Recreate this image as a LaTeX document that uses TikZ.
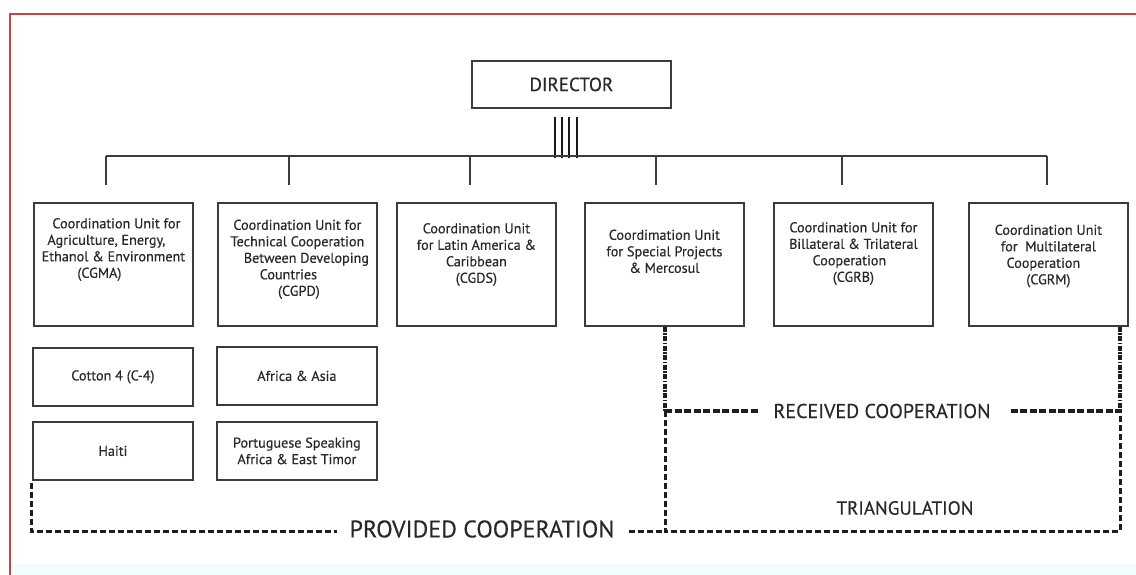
\documentclass[tikz,border=0pt]{standalone}
\usepackage{fontspec}
\setmainfont{PT Sans}[FakeBold=0.35]
\definecolor{framered}{RGB}{200,66,66}
\definecolor{inkline}{RGB}{60,60,60}
\definecolor{inktext}{RGB}{40,40,40}
\definecolor{dashink}{RGB}{30,30,30}
\definecolor{paleband}{RGB}{242,252,252}
\begin{document}
\begin{tikzpicture}[x=1pt,y=-1pt,
  unitbox/.style={draw=inkline, line width=1.8pt, minimum width=159pt,
    minimum height=123pt, inner sep=0pt, anchor=north west},
  subbox/.style={draw=inkline, line width=1.8pt, minimum width=160pt,
    minimum height=58pt, inner sep=0pt, anchor=north west, align=center,
    text=inktext, font=\fontsize{14.2}{16.5}\selectfont},
  unittext/.style={anchor=north, align=center, inner sep=0pt, text=inktext,
    font=\fontsize{14.2}{16.5}\selectfont},
  bigtext/.style={text=inktext, inner sep=0pt},
  busline/.style={draw=inkline, line width=1.8pt},
  bar/.style={draw=black!90, line width=2.6pt},
  provdash/.style={draw=dashink, line width=3pt, dash pattern=on 6pt off 3pt},
  recdash/.style={draw=dashink, line width=3.2pt, dash pattern=on 7pt off 2.5pt},
  recdots/.style={draw=dashink, line width=3.2pt,
    dash pattern=on 5pt off 1.5pt on 1.5pt off 1.5pt},
]
\useasboundingbox (0,0) rectangle (1136,575);
\fill[white] (0,0) rectangle (1136,575);
\fill[paleband] (11,564) rectangle (1136,575);

% outer frame (top and left edges)
\draw[framered, line width=2.6pt] (10,575) -- (10,14) -- (1136,14);

% director and the bus below it
\node[draw=inkline, line width=1.8pt, minimum width=199pt, minimum height=47pt,
  inner sep=0pt, anchor=north west, text=inktext,
  font=\fontsize{19}{22}\selectfont] (dir) at (471,60) {DIRECTOR};
\foreach \dx in {-16.5,-9.5,-2.5,5.5}
  \draw[bar] ([shift={(\dx,8)}]dir.south) -- ++(0,41);
\coordinate (busL) at (106,156);
\coordinate (busR) at (1047,156);
\draw[busline] (busL) -- (busR);
\foreach \x in {106,289,470,656,842,1047}
  \draw[busline] (\x,156) -- (\x,185);

% coordination units
\node[unitbox] (c1) at (33,202) {};
\node[unitbox] (c2) at (217,202) {};
\node[unitbox] (c3) at (396,202) {};
\node[unitbox] (c4) at (584,202) {};
\node[unitbox] (c5) at (773,202) {};
\node[unitbox] (c6) at (968,202) {};

\node[unittext, yshift=-16pt] (c1t) at (c1.north)
  {\hspace*{6pt}Coordination Unit for\\\hspace*{-14pt}Agriculture, Energy,\\
   Ethanol \& Environment\\\hspace*{-28pt}(CGMA)};
\node[unittext, yshift=-17.5pt] (c2t) at (c2.north)
  {Coordination Unit for\\Technical Cooperation\\\hspace*{18pt}Between Developing\\
   \hspace*{-18pt}Countries\\\hspace*{3pt}(CGPD)};
\node[unittext, yshift=-21pt] (c3t) at (c3.north)
  {Coordination Unit\\for Latin America \&\\Caribbean\\(CGDS)};
\node[unittext, yshift=-27.5pt] (c4t) at (c4.north)
  {Coordimation Unit\\for Special Projects\\\& Mercosul};
\node[unittext, yshift=-20pt] (c5t) at (c5.north)
  {Coordination Unit for\\Billateral \& Trilateral\\\hspace*{-8pt}Cooperation\\(CGRB)};
\node[unittext, yshift=-22.5pt] (c6t) at (c6.north)
  {Coordination Unit\\for\ \ Multilateral\\\hspace*{-10pt}Cooperation\\(CGRM)};

% sub-units
\node[subbox] (s1) at (32,347) {Cotton 4 (C-4)};
\node[subbox] (s2) at (216,346) {Africa \& Asia};
\node[subbox] (s3) at (32,421) {Haiti};
\node[subbox] (s4) at (216,421) {Portuguese Speaking\\Africa \& East Timor};

% cooperation groupings
\coordinate (pl) at (31,483);
\coordinate (pb) at (31,531);
\coordinate (tl) at (665,411);
\coordinate (tr) at (1120,411);
\coordinate (bl) at (665,531);
\coordinate (br) at (1120,531);

\node[bigtext, font=\fontsize{24}{28}\selectfont] (prov) at (482,529)
  {PROVIDED COOPERATION};
\node[bigtext, font=\fontsize{20}{24}\selectfont] (rec) at (882,411)
  {RECEIVED COOPERATION};
\node[bigtext, font=\fontsize{19}{22}\selectfont] (tri) at (905,508)
  {TRIANGULATION};

\draw[provdash] (pl) -- (pb) -- ([xshift=-12pt]prov.west |- pb);
\draw[provdash] ([xshift=14pt]prov.east |- bl) -- (bl);
\draw[provdash] (tl) -- (bl) -- (br) -- (tr);
\draw[recdots] (c4.south -| tl) -- (tl);
\draw[recdots] (c6.south -| tr) -- (tr);
\draw[recdash] (tl) -- ([xshift=-15pt]rec.west |- tl);
\draw[recdash] ([xshift=20pt]rec.east |- tr) -- (tr);
\end{tikzpicture}
\end{document}
